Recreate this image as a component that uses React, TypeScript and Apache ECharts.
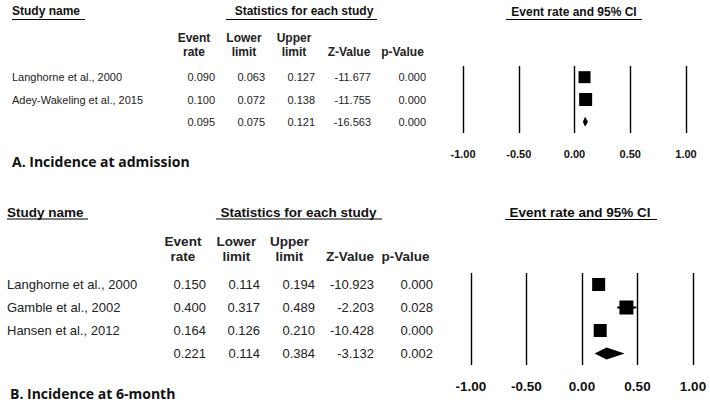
import React, { useEffect, useRef } from "react";
import * as echarts from "echarts";

// ---------- Data: A. Incidence at admission ----------
const studiesA = ["Langhorne et al., 2000", "Adey-Wakeling et al., 2015", ""];
const rateA = [0.09, 0.1, 0.095];
const lowerA = [0.063, 0.072, 0.075];
const upperA = [0.127, 0.138, 0.121];
const zA = [-11.677, -11.755, -16.563];
const pA = [0.0, 0.0, 0.0];

// ---------- Data: B. Incidence at 6-month ----------
const studiesB = ["Langhorne et al., 2000", "Gamble et al., 2002", "Hansen et al., 2012", ""];
const rateB = [0.15, 0.4, 0.164, 0.221];
const lowerB = [0.114, 0.317, 0.126, 0.114];
const upperB = [0.194, 0.489, 0.21, 0.384];
const zB = [-10.923, -2.203, -10.428, -3.132];
const pB = [0.0, 0.028, 0.0, 0.002];

const axisMin = -1;
const axisMax = 1;
const axisStep = 0.5;

const headerWords1 = ["Event", "Lower", "Upper", "", ""];
const headerWords2 = ["rate", "limit", "limit", "Z-Value", "p-Value"];

// ---------- Layout (styles only) ----------
const layoutA = {
  title: "A. Incidence at admission",
  titleX: 12, titleY: 161, titleFont: 14,
  nameX: 12, font: 11, headFont: 12,
  headCenters: [194, 244, 294, 349, 402.5], headY1: 38, headY2: 52,
  dataRight: [215, 265, 315, 371, 426],
  studyHead: { x: 12, y: 11, ux1: 12, ux2: 85, uy: 19.5 },
  statsHead: { cx: 304, y: 11, ux1: 226, ux2: 377, uy: 19.5 },
  forestHead: { cx: 574, y: 12, ux1: 506, ux2: 642, uy: 19.5 },
  grid: { left: 463, right: 24, top: 66, height: 67 },
  labelMargin: 15, tickFont: 11,
  boxes: [12, 13], diamondHalf: 5,
};
const layoutB = {
  title: "B. Incidence at 6-month",
  titleX: 10, titleY: 393, titleFont: 14,
  nameX: 7, font: 13, headFont: 13.5,
  headCenters: [183, 236.5, 289.5, 350, 405.5], headY1: 241, headY2: 256,
  dataRight: [206, 260, 315, 374, 433],
  studyHead: { x: 7, y: 212, ux1: 7, ux2: 88, uy: 219 },
  statsHead: { cx: 298.5, y: 212, ux1: 216, ux2: 382, uy: 219 },
  forestHead: { cx: 580, y: 212, ux1: 505, ux2: 657, uy: 219.5 },
  grid: { left: 471, right: 17, top: 273, height: 92 },
  labelMargin: 14, tickFont: 13.5,
  boxes: [13, 14, 13], diamondHalf: 6,
};

const FONT = "Arial, 'Liberation Sans', sans-serif";

function txt(text: string, x: number, y: number, size: number, opts: any = {}) {
  const align = opts.align || "left";
  return {
    type: "text",
    silent: true,
    style: {
      text,
      x,
      y,
      fontSize: size,
      fontFamily: opts.family || FONT,
      fontWeight: opts.weight || "normal",
      fill: opts.color || "#222",
      textAlign: align,
      align,
      textVerticalAlign: "middle",
      verticalAlign: "middle",
    },
  };
}
function uline(x1: number, x2: number, y: number) {
  return {
    type: "line",
    silent: true,
    shape: { x1, y1: y, x2, y2: y },
    style: { stroke: "#000", lineWidth: 1.2 },
  };
}

function buildPanel(
  idx: number,
  L: any,
  studies: string[],
  rate: number[],
  lower: number[],
  upper: number[],
  z: number[],
  p: number[]
) {
  const n = studies.length;
  const rowH = L.grid.height / n;
  const graphics: any[] = [];
  graphics.push(txt("Study name", L.studyHead.x, L.studyHead.y, L.headFont, { weight: "bold", color: "#111" }));
  graphics.push(uline(L.studyHead.ux1, L.studyHead.ux2, L.studyHead.uy));
  graphics.push(txt("Statistics for each study", L.statsHead.cx, L.statsHead.y, L.headFont, { weight: "bold", color: "#111", align: "center" }));
  graphics.push(uline(L.statsHead.ux1, L.statsHead.ux2, L.statsHead.uy));
  graphics.push(txt("Event rate and 95% CI", L.forestHead.cx, L.forestHead.y, L.headFont, { weight: "bold", color: "#111", align: "center" }));
  graphics.push(uline(L.forestHead.ux1, L.forestHead.ux2, L.forestHead.uy));
  headerWords1.forEach((w, i) => {
    if (w) graphics.push(txt(w, L.headCenters[i], L.headY1, L.headFont, { weight: "bold", color: "#222", align: "center" }));
  });
  headerWords2.forEach((w, i) => {
    graphics.push(txt(w, L.headCenters[i], L.headY2, L.headFont, { weight: "bold", color: "#222", align: "center" }));
  });
  for (let r = 0; r < n; r++) {
    const y = L.grid.top + (r + 0.5) * rowH;
    if (studies[r]) graphics.push(txt(studies[r], L.nameX, y, L.font));
    const vals = [rate[r], lower[r], upper[r], z[r], p[r]];
    vals.forEach((v, c) => {
      graphics.push(txt(v.toFixed(3), L.dataRight[c], y, L.font, { align: "right" }));
    });
  }
  graphics.push(txt(L.title, L.titleX, L.titleY, L.titleFont, { weight: "bold", color: "#111", family: "'Open Sans', sans-serif" }));

  const grid = { left: L.grid.left, right: L.grid.right, top: L.grid.top, height: L.grid.height, containLabel: false };
  const xAxis = {
    type: "value",
    gridIndex: idx,
    min: axisMin,
    max: axisMax,
    interval: axisStep,
    axisLine: { show: false },
    axisTick: { show: false },
    splitLine: { show: true, lineStyle: { color: "#000", width: 1.4 } },
    axisLabel: {
      margin: L.labelMargin,
      fontSize: L.tickFont,
      fontWeight: "bold",
      fontFamily: FONT,
      color: "#111",
      formatter: (v: number) => v.toFixed(2),
    },
  };
  const yAxis = {
    type: "category",
    gridIndex: idx,
    inverse: true,
    data: studies.map((s, i) => String(i)),
    show: false,
  };
  const data = rate.map((v, i) => [lower[i], upper[i], v, i]);
  const series = {
    type: "custom",
    xAxisIndex: idx,
    yAxisIndex: idx,
    silent: true,
    data,
    renderItem: (params: any, api: any) => {
      const i = api.value(3);
      const y = api.coord([0, i])[1];
      const xl = api.coord([api.value(0), i])[0];
      const xu = api.coord([api.value(1), i])[0];
      const xe = api.coord([api.value(2), i])[0];
      if (i === n - 1) {
        const h = L.diamondHalf;
        return {
          type: "polygon",
          shape: { points: [[xl, y], [xe, y - h], [xu, y], [xe, y + h]] },
          style: { fill: "#000" },
        };
      }
      const s = L.boxes[i] || 12;
      return {
        type: "group",
        children: [
          { type: "line", shape: { x1: xl, y1: y, x2: xu, y2: y }, style: { stroke: "#000", lineWidth: 2 } },
          { type: "rect", shape: { x: xe - s / 2, y: y - s / 2, width: s, height: s }, style: { fill: "#000" } },
        ],
      };
    },
  };
  return { grid, xAxis, yAxis, series, graphics };
}

export default function App() {
  const ref = useRef<HTMLDivElement>(null);
  useEffect(() => {
    if (!ref.current) return;
    const chart = echarts.init(ref.current, undefined, { renderer: "svg" });
    const A = buildPanel(0, layoutA, studiesA, rateA, lowerA, upperA, zA, pA);
    const B = buildPanel(1, layoutB, studiesB, rateB, lowerB, upperB, zB, pB);
    chart.setOption({
      animation: false,
      backgroundColor: "#ffffff",
      grid: [A.grid, B.grid],
      xAxis: [A.xAxis, B.xAxis],
      yAxis: [A.yAxis, B.yAxis],
      series: [A.series, B.series],
      graphic: { elements: [...A.graphics, ...B.graphics] },
    });
    return () => chart.dispose();
  }, []);
  return (
    <div
      ref={ref}
      style={{ position: "absolute", left: 0, top: 0, width: 710, height: 405, background: "#fff" }}
    />
  );
}
